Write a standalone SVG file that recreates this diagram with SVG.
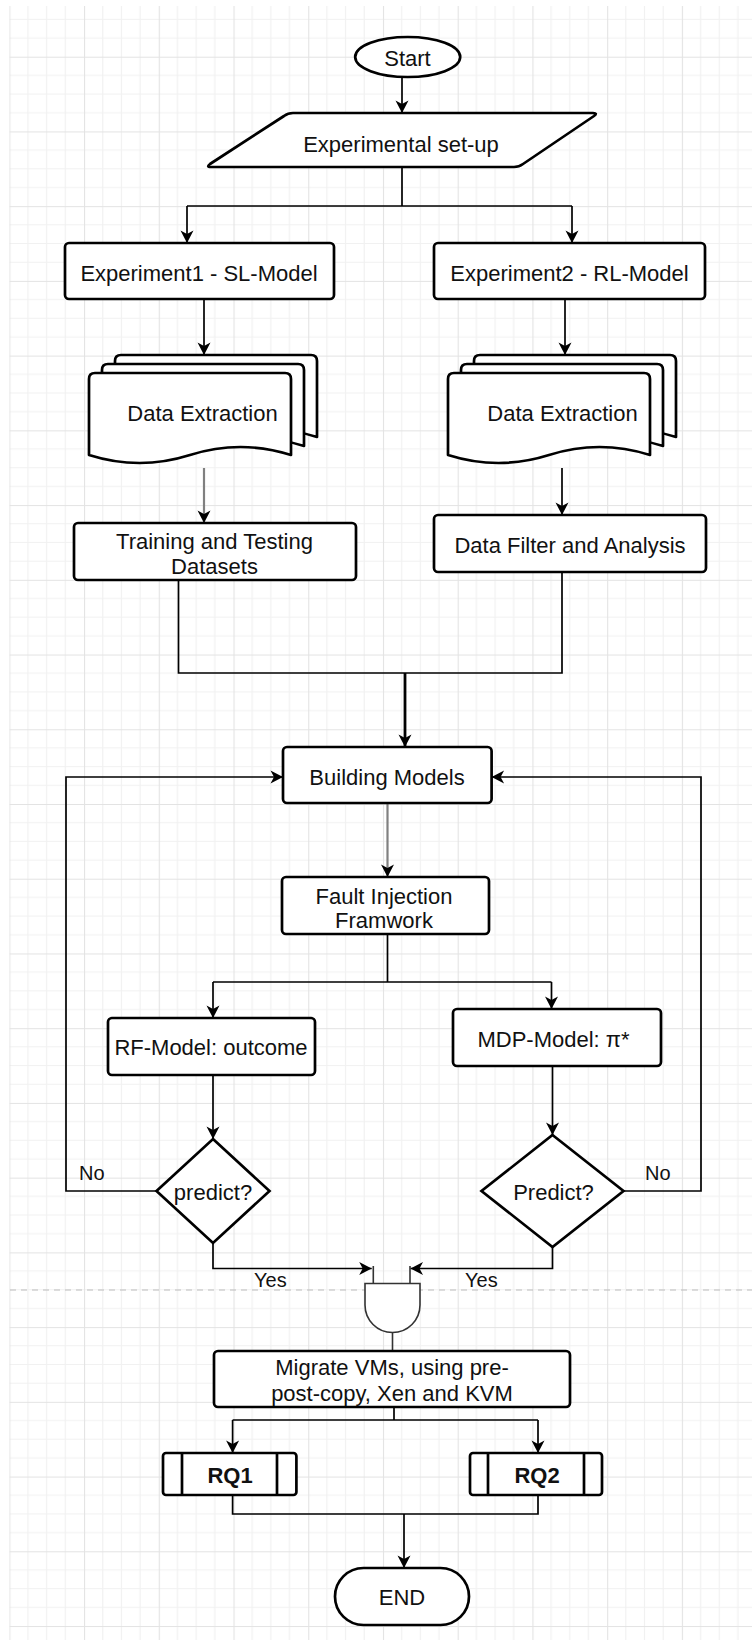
<svg xmlns="http://www.w3.org/2000/svg" width="752" height="1640" viewBox="0 0 752 1640">
<style>
.node{fill:#fff;stroke:#000;stroke-width:2.7;stroke-linejoin:round}
.t{font-family:"Liberation Sans",Arial,Helvetica,sans-serif;font-size:22px;fill:#111;text-anchor:middle}
.lbl{font-family:"Liberation Sans",Arial,Helvetica,sans-serif;font-size:20px;fill:#111}
.b{font-weight:bold}
.c{fill:none;stroke:#000;stroke-width:1.7}
.g{fill:none;stroke:#808080;stroke-width:2.2}
.k{fill:none;stroke:#000;stroke-width:2.8}
</style>
<defs>
<pattern id="grid" patternUnits="userSpaceOnUse" x="9.3" y="-18.03" width="74.73" height="74.73">
<path d="M18.68,0V74.73M37.37,0V74.73M56.05,0V74.73M0,18.68H74.73M0,37.37H74.73M0,56.05H74.73" stroke="#f1f1f1" stroke-width="1.2" fill="none"/>
<path d="M0.5,0V74.73M0,0.5H74.73" stroke="#e3e3e3" stroke-width="1.2" fill="none"/>
</pattern>
<marker id="ar" markerUnits="userSpaceOnUse" viewBox="-13 -7 14 14" refX="0" refY="0" markerWidth="14" markerHeight="14" orient="auto">
<path d="M0,0 L-12.5,-6.5 L-9,0 L-12.5,6.5 Z" fill="#000"/>
</marker>
</defs>
<rect x="0" y="0" width="752" height="1640" fill="#fff"/>
<rect x="9.3" y="6" width="742.7" height="1634" fill="url(#grid)"/>
<path d="M10,1290 L752,1290" stroke="#bbb" stroke-width="1.2" stroke-dasharray="6 5" fill="none"/>

<g id="connectors">
<path class="c" d="M402,77 L402,113" marker-end="url(#ar)"/>
<path class="c" d="M402,167 L402,206 M187,206 L572,206"/>
<path class="c" d="M187,206 L187,243" marker-end="url(#ar)"/>
<path class="c" d="M572,206 L572,243" marker-end="url(#ar)"/>
<path class="c" d="M204,299 L204,355" marker-end="url(#ar)"/>
<path class="c" d="M565,299 L565,355" marker-end="url(#ar)"/>
<path class="g" d="M204,468 L204,523" marker-end="url(#ar)"/>
<path class="c" d="M562,468 L562,515" marker-end="url(#ar)"/>
<path class="c" d="M178.5,580 L178.5,673 L562,673 L562,572"/>
<path class="k" d="M405,673 L405,747" marker-end="url(#ar)"/>
<path class="g" d="M387.5,803 L387.5,877" marker-end="url(#ar)"/>
<path class="c" d="M387.5,934 L387.5,982 M213,982 L551.5,982"/>
<path class="c" d="M213,982 L213,1018" marker-end="url(#ar)"/>
<path class="c" d="M551.5,982 L551.5,1009" marker-end="url(#ar)"/>
<path class="c" d="M213,1075 L213,1139" marker-end="url(#ar)"/>
<path class="c" d="M552.5,1066 L552.5,1135" marker-end="url(#ar)"/>
<path class="c" d="M156.5,1191 L66,1191 L66,777 L283,777" marker-end="url(#ar)"/>
<path class="c" d="M623.5,1191 L701,1191 L701,777 L491.6,777" marker-end="url(#ar)"/>
<path class="c" d="M213,1243 L213,1268.5 L371.7,1268.5" marker-end="url(#ar)"/>
<path class="c" d="M552.5,1247 L552.5,1268.5 L410.5,1268.5" marker-end="url(#ar)"/>
<path d="M373.3,1266 L373.3,1283.5 M410,1266 L410,1283.5 M392.5,1333 L392.5,1351" fill="none" stroke="#333" stroke-width="1.6"/>
<path class="c" d="M394,1407 L394,1420 M232.6,1420 L538,1420"/>
<path class="c" d="M232.6,1420 L232.6,1453" marker-end="url(#ar)"/>
<path class="c" d="M538,1420 L538,1453" marker-end="url(#ar)"/>
<path class="c" d="M232.6,1495 L232.6,1514 L538,1514 L538,1495"/>
<path class="c" d="M404,1514 L404,1568" marker-end="url(#ar)"/>
<text class="lbl" x="79" y="1180">No</text>
<text class="lbl" x="645" y="1180">No</text>
<text class="lbl" x="254" y="1287">Yes</text>
<text class="lbl" x="465" y="1287">Yes</text>
</g>

<g id="start">
<ellipse class="node" cx="407.7" cy="57" rx="52.5" ry="20"/>
<text class="t" x="407.5" y="65.5">Start</text>
</g>
<g id="setup">
<path class="node" d="M293,113 L593,113 Q598,113 594,116 L523,164 Q519,167 514,167 L211,167 Q206,167 210,164 L284,116 Q288,113 293,113 Z"/>
<text class="t" x="401" y="151.5">Experimental set-up</text>
</g>
<g id="exp1">
<rect class="node" x="65" y="243" width="269" height="56" rx="4"/>
<text class="t" x="199" y="280.5">Experiment1 - SL-Model</text>
</g>
<g id="exp2">
<rect class="node" x="434" y="243" width="271" height="56" rx="4"/>
<text class="t" x="569.5" y="280.5">Experiment2 - RL-Model</text>
</g>
<g id="extract1">
<path class="node" d="M115,361 Q115,355 121,355 L311,355 Q317,355 317,361 L317,437 Q266.5,421 216,437 Q165.5,453 115,437 Z"/>
<path class="node" d="M102,370 Q102,364 108,364 L298,364 Q304,364 304,370 L304,446 Q253.5,430 203,446 Q152.5,462 102,446 Z"/>
<path class="node" d="M89,379 Q89,373 95,373 L285,373 Q291,373 291,379 L291,455 Q240.5,439 190,455 Q139.5,471 89,455 Z"/>
<text class="t" x="202.5" y="421">Data Extraction</text>
</g>
<g id="extract2">
<path class="node" d="M474,361 Q474,355 480,355 L670,355 Q676,355 676,361 L676,437 Q625.5,421 575,437 Q524.5,453 474,437 Z"/>
<path class="node" d="M461,370 Q461,364 467,364 L657,364 Q663,364 663,370 L663,446 Q612.5,430 562,446 Q511.5,462 461,446 Z"/>
<path class="node" d="M448,379 Q448,373 454,373 L644,373 Q650,373 650,379 L650,455 Q599.5,439 549,455 Q498.5,471 448,455 Z"/>
<text class="t" x="562.5" y="421">Data Extraction</text>
</g>
<g id="datasets">
<rect class="node" x="74" y="523" width="282" height="57" rx="4"/>
<text class="t" x="214.5" y="548.5">Training and Testing</text>
<text class="t" x="214.5" y="574">Datasets</text>
</g>
<g id="filter">
<rect class="node" x="434" y="515" width="272" height="57" rx="4"/>
<text class="t" x="570" y="553">Data Filter and Analysis</text>
</g>
<g id="building">
<rect class="node" x="283" y="747" width="208.6" height="56" rx="4"/>
<text class="t" x="387" y="784.5">Building Models</text>
</g>
<g id="fault">
<rect class="node" x="282" y="877" width="207" height="57" rx="4"/>
<text class="t" x="384" y="903.5">Fault Injection</text>
<text class="t" x="384" y="928">Framwork</text>
</g>
<g id="rf">
<rect class="node" x="108" y="1018" width="207" height="57" rx="4"/>
<text class="t" x="211" y="1055">RF-Model: outcome</text>
</g>
<g id="mdp">
<rect class="node" x="453" y="1009" width="208" height="57" rx="4"/>
<text class="t" x="553.5" y="1046.5">MDP-Model: π*</text>
</g>
<g id="predict1">
<path class="node" style="stroke-linejoin:miter" d="M213,1139 L269.5,1191 L213,1243 L156.5,1191 Z"/>
<text class="t" x="213" y="1200">predict?</text>
</g>
<g id="predict2">
<path class="node" style="stroke-linejoin:miter" d="M552.5,1135 L623.5,1191 L552.5,1247 L481.5,1191 Z"/>
<text class="t" x="553.5" y="1200">Predict?</text>
</g>
<g id="and">
<path d="M365,1283.5 L420,1283.5 L420,1305 A27.5,27.5 0 0 1 365,1305 Z" fill="#fff" stroke="#333" stroke-width="1.6"/>
</g>
<g id="migrate">
<rect class="node" x="214" y="1351" width="356" height="56" rx="4"/>
<text class="t" x="392" y="1375">Migrate VMs, using pre-</text>
<text class="t" x="392" y="1401">post-copy, Xen and KVM</text>
</g>
<g id="rq1">
<rect class="node" x="163" y="1453" width="133.4" height="42" rx="3"/>
<path class="node" d="M182,1453 L182,1495 M277,1453 L277,1495"/>
<text class="t b" x="230" y="1482.5">RQ1</text>
</g>
<g id="rq2">
<rect class="node" x="470" y="1453" width="132" height="42" rx="3"/>
<path class="node" d="M488,1453 L488,1495 M584,1453 L584,1495"/>
<text class="t b" x="537" y="1482.5">RQ2</text>
</g>
<g id="end">
<rect class="node" x="335" y="1568" width="134" height="57" rx="28.5"/>
<text class="t" x="402" y="1604.5">END</text>
</g>
</svg>
